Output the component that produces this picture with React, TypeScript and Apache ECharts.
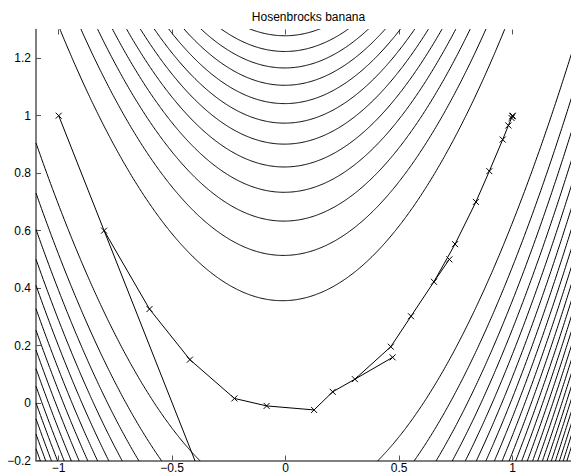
import React, { useEffect, useRef } from "react";
import * as echarts from "echarts";

const TITLE = "Hosenbrocks banana";
const X_TICKS = [-1, -0.5, 0, 0.5, 1];
const Y_TICKS = [-0.2, 0, 0.2, 0.4, 0.6, 0.8, 1, 1.2];
const X_MIN = -1.1;
const X_MAX = 1.3;
const Y_MIN = -0.2;
const Y_MAX = 1.3;

const CONTOUR_LEVELS = [
  13.7, 27.4, 41.1, 54.8, 68.5, 82.2, 95.9, 109.6, 123.3, 137.0, 150.7,
  164.4, 178.1, 191.8, 205.5, 219.2, 232.9, 246.6, 260.3, 274.0, 287.7, 301.4,
];

// evaluated points of the optimisation
const PT_X = [
  -1, -0.8, -0.2, -0.6, -0.422, -0.226, -0.084, 0.125, 0.207, 0.305, 0.471,
  0.463, 0.552, 0.653, 0.721, 0.746, 0.838, 0.897, 0.956, 0.981, 0.995, 0.999, 1,
];
const PT_Y = [
  1, 0.6, -0.6, 0.327, 0.151, 0.016, -0.01, -0.024, 0.039, 0.083, 0.159,
  0.196, 0.302, 0.422, 0.5, 0.553, 0.7, 0.807, 0.917, 0.966, 0.992, 0.998, 1,
];
// order in which the points are joined (-1 = break in the line)
const PATH_ORDER = [
  0, 1, 2, -1, 1, 3, 4, 5, 6, 7, 8, 9, 10, -1, 9, 11, 12, 13, 14, -1, 13, 15,
  16, 17, 18, 19, 20, 21, 22,
];

const FONT = "Liberation Sans, Arial, Helvetica, sans-serif";
const AXIS_COLOR = "#555";

function fmt(v: number): string {
  const s = String(Math.round(v * 100) / 100);
  return s.replace("-", "\u2212");
}

function contourBranch(c: number, sign: number): number[][] {
  const pts: number[][] = [];
  const step = 0.004;
  for (let x = X_MIN; x <= X_MAX + 1e-9; x += step) {
    const r = c - (1 - x) * (1 - x);
    if (r < 0) continue;
    pts.push([x, x * x + sign * Math.sqrt(r / 100)]);
  }
  return pts;
}

export default function App() {
  const ref = useRef<HTMLDivElement>(null);

  useEffect(() => {
    if (!ref.current) return;
    const chart = echarts.init(ref.current, undefined, { renderer: "svg" });

    const series: any[] = [];
    CONTOUR_LEVELS.forEach((c, i) => {
      [1, -1].forEach((sgn) => {
        series.push({
          type: "line",
          name: `c${i}${sgn > 0 ? "u" : "l"}`,
          data: contourBranch(c, sgn),
          showSymbol: false,
          silent: true,
          clip: true,
          lineStyle: { color: "#000", width: 1 },
          z: 2,
        });
      });
    });
    series.push({
      type: "line",
      name: "path",
      data: PATH_ORDER.map((i) => (i < 0 ? [null, null] : [PT_X[i], PT_Y[i]])),
      connectNulls: false,
      showSymbol: false,
      clip: true,
      silent: true,
      lineStyle: { color: "#000", width: 1 },
      z: 3,
    });
    series.push({
      type: "scatter",
      name: "points",
      data: PT_X.map((x, i) => [x, PT_Y[i]]),
      symbol: "path://M0,0L10,10M10,0L0,10",
      symbolSize: 6,
      clip: true,
      silent: true,
      itemStyle: { color: "none", borderColor: "#000", borderWidth: 1, opacity: 1 },
      z: 4,
    });

    chart.setOption({
      animation: false,
      backgroundColor: "#fff",
      grid: { left: 36, top: 29.5, right: -9.8, bottom: 13.5, outerBoundsMode: "none" },
      graphic: [
        {
          type: "text",
          x: 308.5,
          y: 16.5,
          style: {
            text: TITLE,
            fill: "#000",
            font: `12px ${FONT}`,
            textAlign: "center",
            textVerticalAlign: "middle",
          },
        },
      ],
      xAxis: [
        {
          type: "value",
          min: X_MIN,
          max: X_MAX,
          position: "bottom",
          axisLine: { show: true, onZero: false, lineStyle: { color: AXIS_COLOR, width: 1.5 } },
          axisTick: { show: true, inside: true, length: 5, customValues: X_TICKS, lineStyle: { color: AXIS_COLOR } },
          axisLabel: {
            customValues: X_TICKS,
            formatter: fmt,
            color: "#000",
            fontSize: 12,
            lineHeight: 10,
            fontFamily: FONT,
            margin: 2,
          },
          splitLine: { show: false },
        },
        {
          type: "value",
          min: X_MIN,
          max: X_MAX,
          position: "top",
          axisLine: { show: false, onZero: false },
          axisTick: { show: true, inside: true, length: 5, customValues: X_TICKS, lineStyle: { color: AXIS_COLOR } },
          axisLabel: { show: false },
          splitLine: { show: false },
        },
      ],
      yAxis: {
        type: "value",
        min: Y_MIN,
        max: Y_MAX,
        axisLine: { show: true, onZero: false, lineStyle: { color: AXIS_COLOR, width: 1.5 } },
        axisTick: { show: true, inside: true, length: 5, customValues: Y_TICKS, lineStyle: { color: AXIS_COLOR } },
        axisLabel: { customValues: Y_TICKS, formatter: fmt, color: "#000", fontSize: 12, fontFamily: FONT, margin: 5 },
        splitLine: { show: false },
      },
      series,
    });

    return () => chart.dispose();
  }, []);

  return (
    <div
      ref={ref}
      style={{ position: "absolute", left: 0, top: 0, width: 571, height: 474, background: "#fff" }}
    />
  );
}
